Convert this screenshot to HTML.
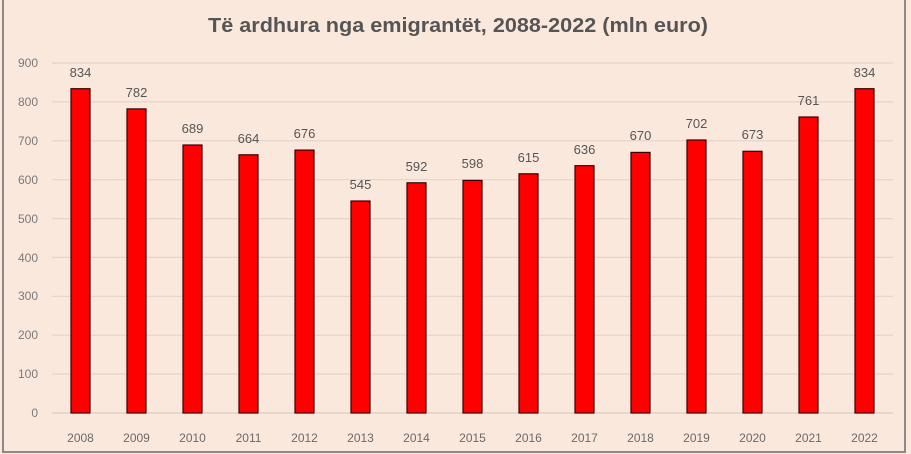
<!DOCTYPE html>
<html><head><meta charset="utf-8"><style>
html,body{margin:0;padding:0;background:#fbe8dd;}
svg{display:block;}
text{font-family:"Liberation Sans",sans-serif;}
</style></head><body>
<svg width="911" height="454" viewBox="0 0 911 454" xmlns="http://www.w3.org/2000/svg">
<rect x="0" y="0" width="911" height="454" fill="#fbe8dd"/>
<rect x="3" y="-2" width="902" height="454" fill="none" stroke="#8a8a8a" stroke-width="2"/>
<text x="458" y="32" text-anchor="middle" font-size="20" font-weight="bold" fill="#555" textLength="500" lengthAdjust="spacingAndGlyphs">Të ardhura nga emigrantët, 2088-2022 (mln euro)</text>
<g stroke="#e3d3cb" stroke-width="1.2">
<line x1="52" x2="893" y1="63" y2="63"/><line x1="52" x2="893" y1="101.9" y2="101.9"/><line x1="52" x2="893" y1="140.8" y2="140.8"/><line x1="52" x2="893" y1="179.7" y2="179.7"/><line x1="52" x2="893" y1="218.6" y2="218.6"/><line x1="52" x2="893" y1="257.4" y2="257.4"/><line x1="52" x2="893" y1="296.3" y2="296.3"/><line x1="52" x2="893" y1="335.2" y2="335.2"/><line x1="52" x2="893" y1="374.1" y2="374.1"/><line x1="52" x2="893" y1="413" y2="413" stroke="#d8cac2"/>
</g>
<g font-size="12" fill="#7a7a7a" text-anchor="end">
<text x="38" y="67">900</text><text x="38" y="106">800</text><text x="38" y="145">700</text><text x="38" y="184">600</text><text x="38" y="223">500</text><text x="38" y="262">400</text><text x="38" y="300">300</text><text x="38" y="339">200</text><text x="38" y="378">100</text><text x="38" y="417">0</text>
</g>
<g fill="#ff0000" stroke="#3a0000" stroke-width="1.2">
<rect x="71" y="88.7" width="19" height="324.3"/>
<rect x="127" y="108.9" width="19" height="304.1"/>
<rect x="183" y="145" width="19" height="268"/>
<rect x="239" y="154.8" width="19" height="258.2"/>
<rect x="295" y="150.1" width="19" height="262.9"/>
<rect x="351" y="201" width="19" height="212"/>
<rect x="407" y="182.8" width="19" height="230.2"/>
<rect x="463" y="180.4" width="19" height="232.6"/>
<rect x="519" y="173.8" width="19" height="239.2"/>
<rect x="575" y="165.7" width="19" height="247.3"/>
<rect x="631" y="152.4" width="19" height="260.6"/>
<rect x="687" y="140" width="19" height="273"/>
<rect x="743" y="151.3" width="19" height="261.7"/>
<rect x="799" y="117" width="19" height="296"/>
<rect x="855" y="88.7" width="19" height="324.3"/>
</g>
<g font-size="13" fill="#555" text-anchor="middle">
<text x="80.5" y="77">834</text><text x="136.5" y="97">782</text><text x="192.5" y="133">689</text><text x="248.5" y="143">664</text><text x="304.5" y="138">676</text><text x="360.5" y="189">545</text><text x="416.5" y="171">592</text><text x="472.5" y="168">598</text><text x="528.5" y="162">615</text><text x="584.5" y="154">636</text><text x="640.5" y="140">670</text><text x="696.5" y="128">702</text><text x="752.5" y="139">673</text><text x="808.5" y="105">761</text><text x="864.5" y="77">834</text>
</g>
<g font-size="12" fill="#6a6a6a" text-anchor="middle">
<text x="80.5" y="442">2008</text><text x="136.5" y="442">2009</text><text x="192.5" y="442">2010</text><text x="248.5" y="442">2011</text><text x="304.5" y="442">2012</text><text x="360.5" y="442">2013</text><text x="416.5" y="442">2014</text><text x="472.5" y="442">2015</text><text x="528.5" y="442">2016</text><text x="584.5" y="442">2017</text><text x="640.5" y="442">2018</text><text x="696.5" y="442">2019</text><text x="752.5" y="442">2020</text><text x="808.5" y="442">2021</text><text x="864.5" y="442">2022</text>
</g>
</svg>
</body></html>
